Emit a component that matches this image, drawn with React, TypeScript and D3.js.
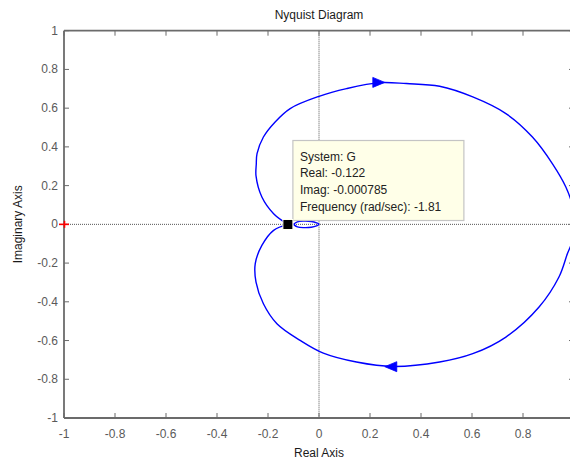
import React from "react";
import * as d3 from "d3";

// ---- Data ----
const xTicks = [-1, -0.8, -0.6, -0.4, -0.2, 0, 0.2, 0.4, 0.6, 0.8];
const yTicks = [1, 0.8, 0.6, 0.4, 0.2, 0, -0.2, -0.4, -0.6, -0.8, -1];

// negative-frequency branch (upper half), from the data tip point to the right
const upperRe = [-0.122, -0.178, -0.224, -0.247, -0.246, -0.243, -0.218, -0.172, -0.113, 0, 0.108, 0.238, 0.343, 0.473, 0.603, 0.733, 0.837, 0.915, 0.968, 0.995, 1.0];
const upperIm = [0, 0.055, 0.141, 0.25, 0.31, 0.365, 0.451, 0.529, 0.598, 0.661, 0.701, 0.732, 0.727, 0.713, 0.658, 0.572, 0.451, 0.314, 0.193, 0.09, 0];

// positive-frequency branch (lower half), from the right back to the data tip point
const lowerRe = [1.0, 0.995, 0.974, 0.941, 0.863, 0.733, 0.603, 0.473, 0.29, 0.147, 0.017, -0.074, -0.165, -0.218, -0.247, -0.25, -0.224, -0.178, -0.122];
const lowerIm = [0, -0.08, -0.152, -0.272, -0.427, -0.582, -0.668, -0.711, -0.734, -0.711, -0.665, -0.599, -0.513, -0.41, -0.298, -0.203, -0.109, -0.031, 0];

// small loop near the origin
const loopRe = [-0.1, -0.085, -0.06, -0.03, -0.01, 0, -0.01, -0.03, -0.06, -0.085, -0.1];
const loopIm = [0, 0.013, 0.017, 0.015, 0.008, 0, -0.008, -0.015, -0.017, -0.013, 0];

// direction arrows: tip position and direction (+1 right, -1 left)
const arrowRe = [0.258, 0.258];
const arrowIm = [0.733, -0.735];
const arrowDir = [1, -1];

// data tip
const tipRe = -0.122;
const tipIm = -0.000785;
const tipLines = ["System: G", "Real: -0.122", "Imag: -0.000785", "Frequency (rad/sec): -1.81"];

// critical point
const critRe = -1;
const critIm = 0;

export default function App() {
  const W = 570, H = 464;
  const left = 64, right = 574, top = 30.7, bottom = 418;
  const x = d3.scaleLinear().domain([-1, 1]).range([left, right]);
  const y = d3.scaleLinear().domain([-1, 1]).range([bottom, top]);
  const line = d3.line<[number, number]>().x(d => x(d[0])).y(d => y(d[1])).curve(d3.curveCatmullRom.alpha(0.5));
  const zip = (a: number[], b: number[]) => a.map((v, i) => [v, b[i]] as [number, number]);

  const axisColor = "#6b6b6b";
  const labelColor = "#5a5a5a";
  const font = "'Liberation Sans', Arial, Helvetica, sans-serif";
  const tickLen = 5;

  const mx = x(tipRe), my = y(tipIm);
  const boxX = mx + 5, boxY = my - 84, boxW = 171, boxH = 80;

  return (
    <svg width={W} height={H} style={{ position: "absolute", left: 0, top: 0, background: "#fff" }} fontFamily={font}>
      <defs>
        <clipPath id="plotclip">
          <rect x={left} y={top} width={right - left} height={bottom - top} />
        </clipPath>
      </defs>
      <rect x={0} y={0} width={W} height={H} fill="#fff" />

      {/* dotted zero lines */}
      <line x1={left} x2={right} y1={y(0)} y2={y(0)} stroke="#555" strokeWidth={1} strokeDasharray="1,1" />
      <line x1={x(0)} x2={x(0)} y1={top} y2={bottom} stroke="#555" strokeWidth={1} strokeDasharray="1,1" />

      {/* curves */}
      <g clipPath="url(#plotclip)" fill="none" stroke="#0000ff" strokeWidth={1.4} strokeLinejoin="round">
        <path d={line(zip(upperRe, upperIm)) || ""} />
        <path d={line(zip(lowerRe, lowerIm)) || ""} />
        <path d={line(zip(loopRe, loopIm)) || ""} />
      </g>

      {/* arrows */}
      {arrowRe.map((r, i) => {
        const tx = x(r), ty = y(arrowIm[i]);
        const dir = arrowDir[i];
        const L = 12, Hh = 5;
        const pts = [[tx, ty], [tx - dir * L, ty - Hh], [tx - dir * L, ty + Hh]];
        return <polygon key={i} points={pts.map(p => p.join(",")).join(" ")} fill="#0000ff" stroke="#0000ff" strokeWidth={0.8} />;
      })}

      {/* axes box */}
      <g stroke={axisColor} strokeWidth={1.8} fill="none">
        <line x1={left} x2={right} y1={top} y2={top} />
        <line x1={left} x2={right} y1={bottom} y2={bottom} />
        <line x1={left} x2={left} y1={top} y2={bottom} />
        <line x1={right} x2={right} y1={top} y2={bottom} />
      </g>
      <g stroke={axisColor} strokeWidth={1}>
        {xTicks.map(t => (
          <g key={"xt" + t}>
            <line x1={x(t)} x2={x(t)} y1={bottom} y2={bottom - tickLen} />
            <line x1={x(t)} x2={x(t)} y1={top} y2={top + tickLen} />
          </g>
        ))}
        {yTicks.map(t => (
          <g key={"yt" + t}>
            <line x1={left} x2={left + tickLen} y1={y(t)} y2={y(t)} />
            <line x1={right} x2={right - tickLen} y1={y(t)} y2={y(t)} />
          </g>
        ))}
      </g>

      {/* critical point */}
      <g stroke="#ff0000" strokeWidth={1.6}>
        <line x1={x(critRe) - 5} x2={x(critRe) + 5} y1={y(critIm)} y2={y(critIm)} />
        <line x1={x(critRe) + 0.5} x2={x(critRe) + 0.5} y1={y(critIm) - 3.5} y2={y(critIm) + 3.5} />
      </g>

      {/* tick labels */}
      <g fill={labelColor} fontSize={12}>
        {xTicks.map(t => (
          <text key={"xl" + t} x={x(t)} y={bottom + 20} textAnchor="middle">{String(t)}</text>
        ))}
        {yTicks.map(t => (
          <text key={"yl" + t} x={left - 6} y={y(t) + 4} textAnchor="end">{String(t)}</text>
        ))}
      </g>

      {/* titles */}
      <text x={x(0)} y={19} textAnchor="middle" fontSize={12} fill="#1a1a1a">Nyquist Diagram</text>
      <text x={x(0)} y={457} textAnchor="middle" fontSize={12} fill="#1a1a1a">Real Axis</text>
      <text transform={`translate(22,${y(0)}) rotate(-90)`} textAnchor="middle" fontSize={12} fill="#1a1a1a">Imaginary Axis</text>

      {/* data tip */}
      <rect x={boxX} y={boxY} width={boxW} height={boxH} fill="#ffffe8" stroke="#c4c4c4" strokeWidth={1.2} />
      {tipLines.map((s, i) => (
        <text key={s} x={boxX + 7} y={boxY + 20 + i * 16.7} fontSize={12} fill="#222">{s}</text>
      ))}
      <rect x={mx - 5} y={my - 5} width={10} height={10} fill="#000" stroke="#fffff0" strokeWidth={1} />
    </svg>
  );
}
